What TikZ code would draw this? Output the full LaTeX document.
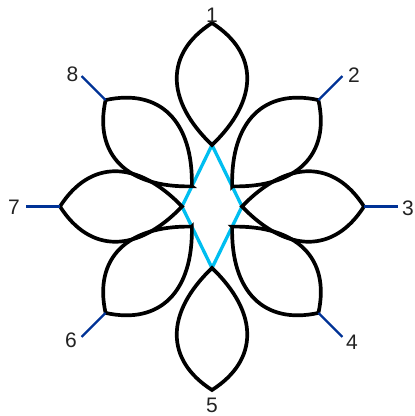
\documentclass[tikz,border=0pt]{standalone}
\usepackage{fontspec}
\setmainfont{Liberation Sans}
\usetikzlibrary{calc}
\definecolor{diacol}{RGB}{0,190,240}
\definecolor{lblcol}{RGB}{0,50,150}
\definecolor{txtcol}{RGB}{34,34,34}
\tikzset{
  petal/.style={draw=black, line width=3.7pt, line join=miter},
  diamondline/.style={draw=diacol, line width=3.3pt},
  lblline/.style={draw=lblcol, line width=2.2pt},
  lbltext/.style={text=txtcol, font=\fontsize{21}{24}\selectfont, inner sep=0pt}
}
\begin{document}
\begin{tikzpicture}[x=1pt,y=1pt]
\useasboundingbox (0,0) rectangle (415,416);
\coordinate (C) at (212,209.5);
\coordinate (dT) at (212,271);
\coordinate (dB) at (212,148);
\coordinate (dL) at (182,209.5);
\coordinate (dR) at (242,209.5);
\draw[diamondline] (dT) -- (dR) -- (dB) -- (dL) -- cycle;
\foreach \k/\a/\r in {1/90/61.5, 2/45/28.5, 3/0/30, 4/-45/28.5, 5/-90/61.5, 6/-135/28.5, 7/180/30, 8/135/28.5}{
  \begin{scope}[shift={(C)}, rotate=\a]
    \coordinate (in\k) at (\r,0);
    \coordinate (out\k) at ({\r+122},0);
    \coordinate (end\k) at ({\r+156},0);
    \draw[petal] (in\k) .. controls ({\r+45},47) and ({\r+92},47) .. (out\k)
      .. controls ({\r+92},-47) and ({\r+45},-47) .. cycle;
  \end{scope}
}
\foreach \k in {2,3,4,6,7,8}{
  \draw[lblline] (out\k) -- (end\k);
}
\node[lbltext] (t1) at (212,401) {1};
\node[lbltext] (t2) at (354,340.5) {2};
\node[lbltext] (t3) at (408,208) {3};
\node[lbltext] (t4) at (352,73.5) {4};
\node[lbltext] (t5) at (212,11) {5};
\node[lbltext] (t6) at (71,76) {6};
\node[lbltext] (t7) at (14,208.5) {7};
\node[lbltext] (t8) at (72.5,341.5) {8};
\end{tikzpicture}
\end{document}
